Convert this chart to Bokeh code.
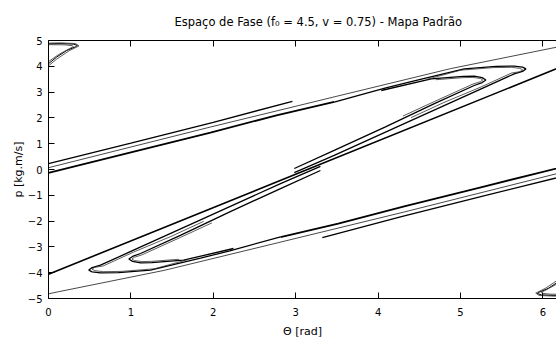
from bokeh.plotting import figure
from bokeh.models import LinearAxis, Range1d, FixedTicker
from bokeh.embed import file_html
from bokeh.resources import INLINE

# ---- data (theta [rad], p [kg.m/s]) ----
x_ticks = [0, 1, 2, 3, 4, 5, 6]
y_ticks = [-5, -4, -3, -2, -1, 0, 1, 2, 3, 4, 5]

d1_t = [0.0, 3.1416, 6.2832]
d1_p = [-4.06, 0.0, 4.06]

utop_t = [0.0, 1.0, 2.0, 2.96]
utop_p = [0.23, 1.02, 1.83, 2.64]
umid_t = [0.0, 1.97, 3.5, 4.88, 6.165, 6.283]
umid_p = [0.07, 1.65, 2.84, 3.91, 4.74, 4.82]
ubot_t = [0.0, 1.0, 1.966, 2.767, 3.467]
ubot_p = [-0.135, 0.66, 1.43, 2.10, 2.62]

ltop_t = [6.283, 5.283, 4.283, 3.323]
ltop_p = [-0.23, -1.02, -1.83, -2.64]
lmid_t = [6.283, 4.313, 2.783, 1.403, 0.118, 0.0]
lmid_p = [-0.07, -1.65, -2.84, -3.91, -4.74, -4.82]
lbot_t = [6.283, 5.283, 4.317, 3.516, 2.816]
lbot_p = [0.135, -0.66, -1.43, -2.10, -2.62]

oll_t = [2.816, 2.2, 1.845, 1.238, 0.85, 0.631, 0.53, 0.489, 0.53, 0.631, 1.032, 1.845, 2.816, 3.3]
oll_p = [-2.613, -3.15, -3.438, -3.902, -4.0, -4.007, -3.97, -3.90, -3.80, -3.709, -3.128, -1.952, -0.546, 0.12]
oll2_t = [1.683, 1.283, 0.883, 0.663, 0.563, 0.528, 0.563, 0.663, 1.033, 1.483, 1.883]
oll2_p = [-3.50, -3.85, -3.95, -3.96, -3.92, -3.86, -3.79, -3.74, -3.20, -2.60, -2.01]
ill_t = [2.245, 1.638, 1.25, 1.117, 1.02, 0.975, 1.02, 1.117, 1.6, 2.2, 2.816, 3.3]
ill_p = [-3.062, -3.515, -3.61, -3.62, -3.56, -3.47, -3.37, -3.256, -2.55, -1.64, -0.739, -0.04]
ill2_t = [1.583, 1.253, 1.133, 1.043, 1.013, 1.043, 1.133, 1.603, 1.983]
ill2_p = [-3.48, -3.56, -3.57, -3.53, -3.47, -3.40, -3.31, -2.63, -2.07]

our_t = [3.467, 4.083, 4.438, 5.045, 5.433, 5.652, 5.753, 5.794, 5.753, 5.652, 5.251, 4.438, 3.467, 2.983]
our_p = [2.613, 3.15, 3.438, 3.902, 4.0, 4.007, 3.97, 3.90, 3.80, 3.709, 3.128, 1.952, 0.546, -0.12]
our2_t = [4.6, 5.0, 5.4, 5.62, 5.72, 5.755, 5.72, 5.62, 5.25, 4.8, 4.4]
our2_p = [3.50, 3.85, 3.95, 3.96, 3.92, 3.86, 3.79, 3.74, 3.20, 2.60, 2.01]
iur_t = [4.038, 4.645, 5.033, 5.166, 5.263, 5.308, 5.263, 5.166, 4.683, 4.083, 3.467, 2.983]
iur_p = [3.062, 3.515, 3.61, 3.62, 3.56, 3.47, 3.37, 3.256, 2.55, 1.64, 0.739, 0.04]
iur2_t = [4.7, 5.03, 5.15, 5.24, 5.27, 5.24, 5.15, 4.68, 4.3]
iur2_p = [3.48, 3.56, 3.57, 3.53, 3.47, 3.40, 3.31, 2.63, 2.07]

tl1_t = [0.0, 0.10, 0.22, 0.33, 0.35, 0.30, 0.15, 0.0]
tl1_p = [4.10, 4.36, 4.61, 4.76, 4.81, 4.86, 4.88, 4.87]
tl2_t = [0.0, 0.12, 0.24, 0.30, 0.29, 0.20, 0.0]
tl2_p = [4.18, 4.45, 4.66, 4.76, 4.80, 4.83, 4.84]
tl3_t = [0.0, 0.10, 0.25, 0.37, 0.33, 0.15, 0.0]
tl3_p = [4.02, 4.28, 4.60, 4.79, 4.88, 4.91, 4.90]

br1_t = [6.283, 6.183, 6.063, 5.953, 5.933, 5.983, 6.133, 6.283]
br1_p = [-4.10, -4.36, -4.61, -4.76, -4.81, -4.86, -4.88, -4.87]
br2_t = [6.283, 6.163, 6.043, 5.983, 5.993, 6.083, 6.283]
br2_p = [-4.18, -4.45, -4.66, -4.76, -4.80, -4.83, -4.84]
br3_t = [6.283, 6.183, 6.033, 5.913, 5.953, 6.133, 6.283]
br3_p = [-4.02, -4.28, -4.60, -4.79, -4.88, -4.91, -4.90]

FONT = "DejaVu Sans"

p = figure(width=556, height=342, x_range=Range1d(0, 6.165), y_range=Range1d(-5, 5),
           output_backend="svg", toolbar_location=None,
           min_border_left=48, min_border_right=0, min_border_top=40, min_border_bottom=44)
p.outline_line_color = None
p.grid.visible = False
p.background_fill_color = "white"
p.border_fill_color = "white"

p.title.text = "Espaço de Fase (f\u2080 = 4.5, v = 0.75) - Mapa Padrão"
p.title.text_font = FONT
p.title.text_font_size = "11.5px"
p.title.text_font_style = "normal"
p.title.text_color = "black"
p.title.align = "left"
p.title.offset = 126
p.title.standoff = 23

for ax, ticks in ((p.xaxis[0], x_ticks), (p.yaxis[0], y_ticks)):
    ax.ticker = FixedTicker(ticks=ticks)
    ax.major_tick_in = 6
    ax.major_tick_out = 0
    ax.minor_tick_line_color = None
    ax.axis_line_color = "black"
    ax.major_tick_line_color = "black"
    ax.major_label_text_font = FONT
    ax.major_label_text_font_size = "10px"
    ax.major_label_text_color = "black"
    ax.axis_label_text_font = FONT
    ax.axis_label_text_font_size = "11px"
    ax.axis_label_text_font_style = "normal"
    ax.axis_label_text_color = "black"

p.xaxis.axis_label = "\u0398 [rad]"
p.yaxis.axis_label = "p [kg.m/s]"
p.xaxis.major_label_standoff = 9
p.xaxis.axis_label_standoff = 6
p.yaxis.major_label_standoff = 6
p.yaxis.axis_label_standoff = 0

top = LinearAxis(ticker=FixedTicker(ticks=x_ticks), major_label_text_font_size="0px",
                 major_tick_in=6, major_tick_out=0, minor_tick_line_color=None,
                 axis_line_color="black", major_label_standoff=0)
p.add_layout(top, "above")

thick = 1.8
mid = 1.3
thin = 0.9
curves = ((d1_t, d1_p, 1.6, "black"), (utop_t, utop_p, mid, "black"),
          (umid_t, umid_p, thin, "#333333"), (ubot_t, ubot_p, thick, "black"),
          (ltop_t, ltop_p, mid, "black"), (lmid_t, lmid_p, thin, "#333333"),
          (lbot_t, lbot_p, thick, "black"), (oll_t, oll_p, mid, "black"),
          (ill_t, ill_p, mid, "black"), (oll2_t, oll2_p, 0.8, "#333333"),
          (ill2_t, ill2_p, 0.8, "#333333"), (our_t, our_p, mid, "black"),
          (iur_t, iur_p, mid, "black"), (our2_t, our2_p, 0.8, "#333333"),
          (iur2_t, iur2_p, 0.8, "#333333"),
          (tl1_t, tl1_p, 1.0, "black"), (tl2_t, tl2_p, 0.8, "#333333"), (tl3_t, tl3_p, 0.8, "#333333"),
          (br1_t, br1_p, 1.0, "black"), (br2_t, br2_p, 0.8, "#333333"), (br3_t, br3_p, 0.8, "#333333"))
for t, v, w, c in curves:
    p.line(t, v, line_color=c, line_width=w)

open("out.html", "w").write(file_html(p, INLINE))
